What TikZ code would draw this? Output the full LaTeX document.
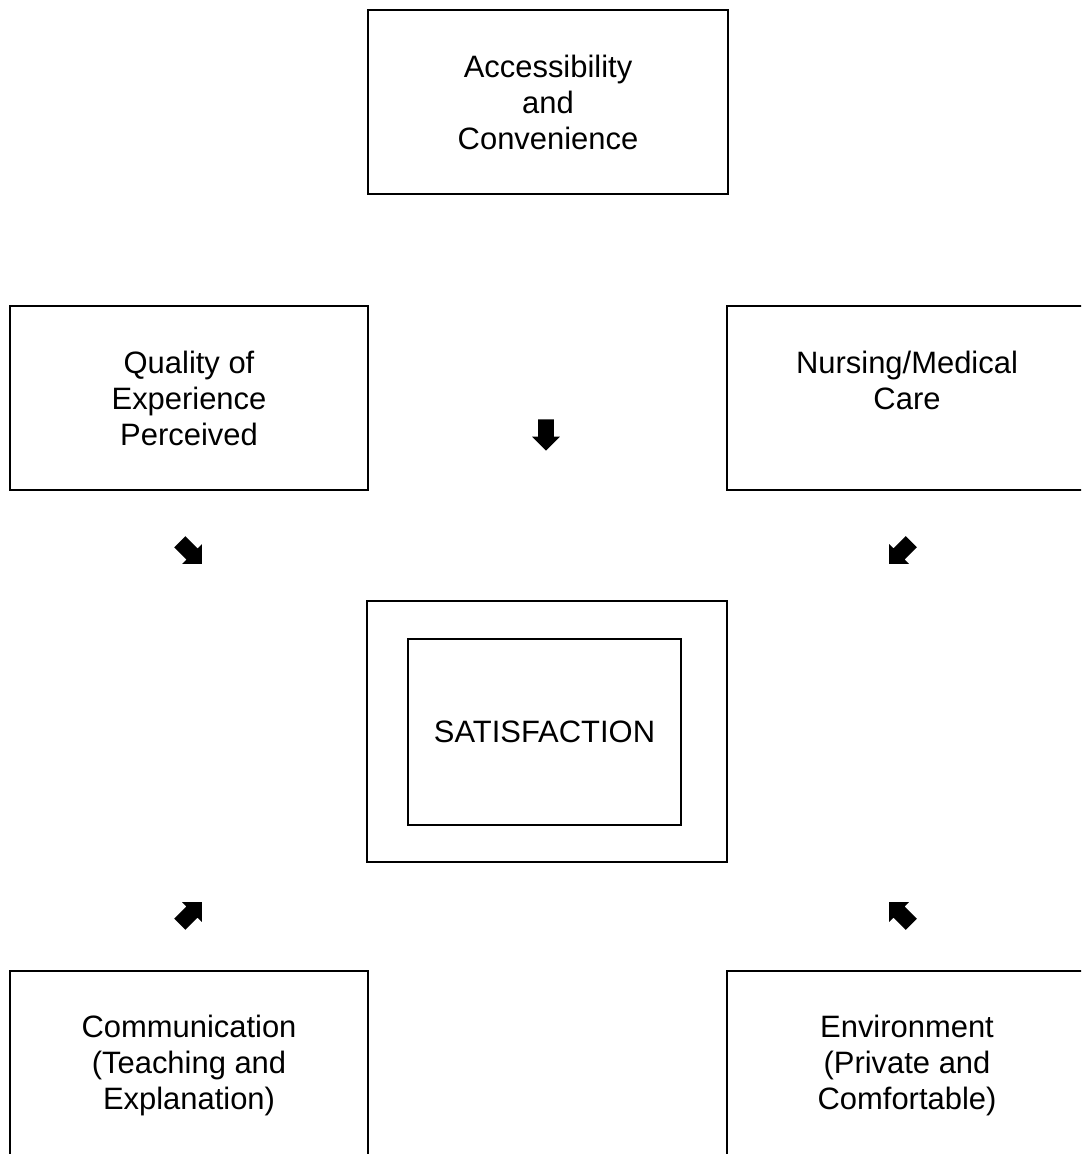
\documentclass[tikz,border=0pt]{standalone}
\usepackage{fontspec}
\setmainfont{Liberation Sans}
\usetikzlibrary{shapes.arrows}

\begin{document}
\begin{tikzpicture}[
    x=0.025cm, y=-0.025cm,
    factor/.style={draw, line width=1.1pt, minimum width=9cm, minimum height=4.6cm,
        align=center, font=\fontsize{22}{25.6}\selectfont},
    cue/.style={single arrow, fill=black, inner sep=1.9mm, minimum width=6.6mm, minimum height=7.8mm,
        single arrow head extend=1.5mm, single arrow tip angle=90}
]
    \clip (0,0) rectangle (1081,1154);

    \node[factor]                        (acc)  at (548,102)  {Accessibility\\and\\Convenience};
    \node[factor, minimum width=8.95cm]  (qual) at (189,398)  {Quality of\\Experience\\Perceived};
    \node[factor]                        (nurs) at (907,398)  {Nursing/Medical\\Care\\~};
    \node[factor, minimum width=8.95cm, minimum height=4.7cm] (comm) at (189,1065) {Communication\\(Teaching and\\Explanation)};
    \node[factor, minimum height=4.7cm]  (env)  at (907,1065) {Environment\\(Private and\\Comfortable)};

    % satisfaction in a double frame
    \node[draw, line width=1.1pt, minimum width=9cm, minimum height=6.53cm] (outer) at (547,731.5) {};
    \node[factor, minimum width=6.83cm, minimum height=4.65cm] (sat) at (544.5,732) {SATISFACTION};

    % pointers towards the centre
    \node[cue, rotate=-90]  (pa) at (546,431) {};
    \node[cue, rotate=-45]  (pq) at (188,550) {};
    \node[cue, rotate=-135] (pn) at (903,550) {};
    \node[cue, rotate=45]   (pc) at (188,916) {};
    \node[cue, rotate=135]  (pe) at (903,916) {};
\end{tikzpicture}
\end{document}
